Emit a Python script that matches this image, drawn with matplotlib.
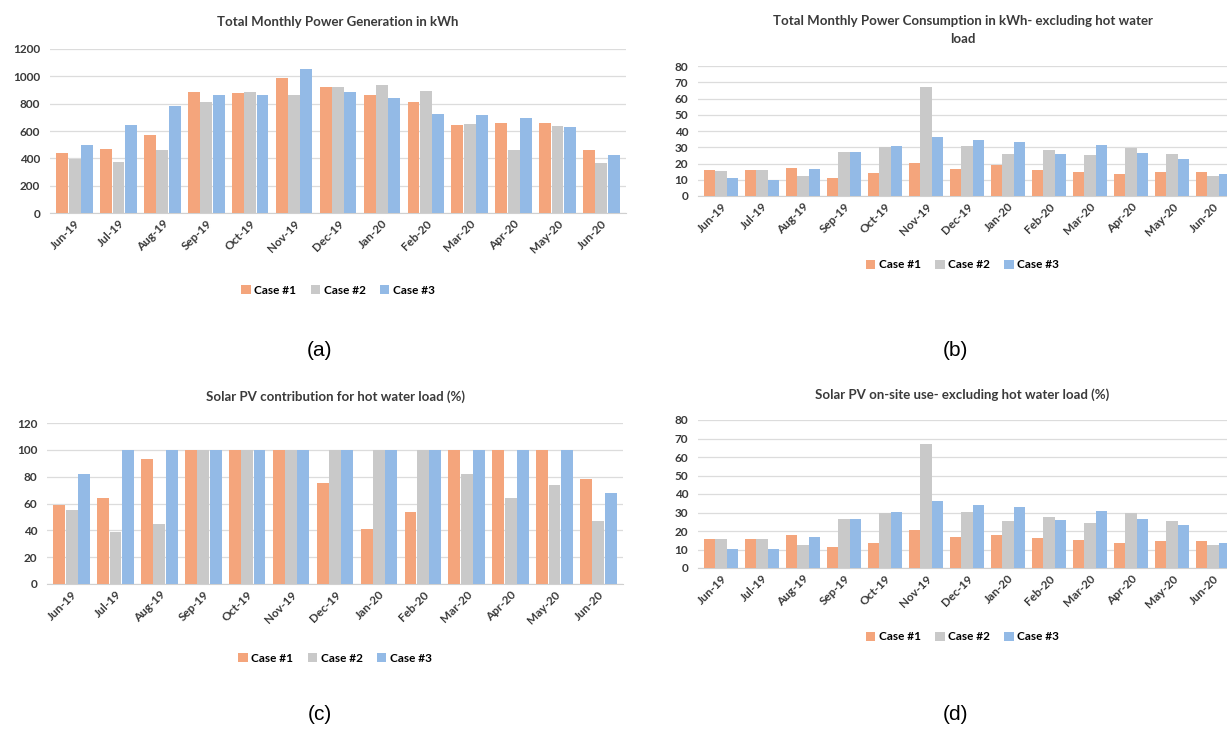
import numpy as np
import matplotlib.pyplot as plt

months = ['Jun-19', 'Jul-19', 'Aug-19', 'Sep-19', 'Oct-19', 'Nov-19', 'Dec-19',
          'Jan-20', 'Feb-20', 'Mar-20', 'Apr-20', 'May-20', 'Jun-20']
cases = ['Case #1', 'Case #2', 'Case #3']

# (a) generation, kWh
gen_c1 = [437, 467, 572, 889, 877, 987, 921, 865, 809, 645, 657, 657, 462]
gen_c2 = [393, 376, 462, 809, 885, 865, 921, 938, 896, 650, 462, 633, 364]
gen_c3 = [498, 645, 784, 865, 865, 1053, 882, 840, 726, 718, 694, 630, 425]

# (b) consumption excl. hot water, kWh
con_c1 = [16.2, 16.2, 17.4, 11.3, 14.2, 20.5, 16.8, 19.0, 16.2, 14.8, 13.7, 14.8, 14.8]
con_c2 = [15.4, 15.8, 12.3, 27.0, 30.0, 67.0, 30.5, 26.0, 28.5, 25.0, 29.7, 26.0, 12.3]
con_c3 = [11.0, 10.0, 16.8, 27.0, 30.8, 36.3, 34.5, 33.0, 26.0, 31.2, 26.5, 23.0, 13.7]

# (c) PV contribution for hot water, %
hw_c1 = [59, 64, 93, 100, 100, 100, 75, 41, 54, 100, 100, 100, 78]
hw_c2 = [55, 39, 45, 100, 100, 100, 100, 100, 100, 82, 64, 74, 47]
hw_c3 = [82, 100, 100, 100, 100, 100, 100, 100, 100, 100, 100, 100, 68]

# (d) PV on-site use excl. hot water, %
os_c1 = [15.9, 15.9, 17.7, 11.4, 13.7, 20.4, 16.8, 18.0, 16.4, 15.3, 13.5, 14.6, 14.6]
os_c2 = [15.9, 15.9, 12.3, 26.6, 29.6, 67.0, 30.3, 25.5, 27.8, 24.4, 29.8, 25.5, 12.3]
os_c3 = [10.5, 10.1, 16.8, 26.6, 30.5, 36.3, 33.9, 33.0, 25.8, 30.9, 26.4, 23.1, 13.5]

colors = ['#F4A57C', '#C9C9C9', '#93BAE6']
W, H = 1227, 732
txt = '#3a3a3a'

plt.rcParams['font.family'] = ['Lato', 'DejaVu Sans']

fig = plt.figure(figsize=(W / 100, H / 100), dpi=100)


def panel(left, right, top, bottom, series, ymax, step, title, title_y, leg_y):
    ax = fig.add_axes([left / W, 1 - bottom / H, (right - left) / W, (bottom - top) / H])
    x = np.arange(len(months))
    bw = 0.28
    for i, vals in enumerate(series):
        ax.bar(x + (i - 1) * bw, vals, bw * 0.97, color=colors[i], label=cases[i], zorder=3)
    ax.set_xlim(-0.56, len(months) - 0.44)
    ax.set_ylim(0, ymax)
    ax.set_yticks(np.arange(0, ymax + 1, step))
    ax.yaxis.grid(True, color='#dcdcdc', linewidth=0.9, zorder=0)
    for s in ['top', 'right', 'left']:
        ax.spines[s].set_visible(False)
    ax.spines['bottom'].set_color('#d0d0d0')
    ax.tick_params(axis='both', length=0, labelsize=8.5, labelcolor=txt)
    ax.tick_params(axis='y', pad=7)
    ax.set_xticks(x)
    ax.set_xticklabels(months, rotation=45, ha='right', rotation_mode='anchor', fontweight='bold')
    for t in ax.get_yticklabels():
        t.set_fontweight('bold')
    cx = (left + min(right, W)) / 2
    fig.text(cx / W, 1 - title_y / H, title, ha='center', va='center', fontsize=9.5,
             fontweight='bold', color=txt, linespacing=1.6)
    fig.legend(*ax.get_legend_handles_labels(), loc='center', ncol=3, frameon=False,
               bbox_to_anchor=(cx / W, 1 - leg_y / H), handlelength=0.8,
               handleheight=0.8, handletextpad=0.3, columnspacing=1.2,
               prop={'weight': 'bold', 'size': 8.5})
    return ax


panel(50, 626, 49, 213, [gen_c1, gen_c2, gen_c3], 1200, 200,
      'Total Monthly Power Generation in kWh', 22, 290)
panel(698, 1236, 66, 196, [con_c1, con_c2, con_c3], 80, 10,
      'Total Monthly Power Consumption in kWh- excluding hot water\nload', 30, 265)
panel(47, 623, 423, 584, [hw_c1, hw_c2, hw_c3], 120, 20,
      'Solar PV contribution for hot water load (%)', 397, 658)
panel(698, 1236, 420, 568, [os_c1, os_c2, os_c3], 80, 10,
      'Solar PV on-site use- excluding hot water load (%)', 395, 637)

for lab, cx, cy in [('(a)', 320, 350), ('(b)', 955, 350), ('(c)', 320, 715), ('(d)', 955, 715)]:
    fig.text(cx / W, 1 - cy / H, lab, ha='center', va='center', fontsize=15,
             family='Liberation Sans', color='black')

fig.savefig('out.png', dpi=100)
